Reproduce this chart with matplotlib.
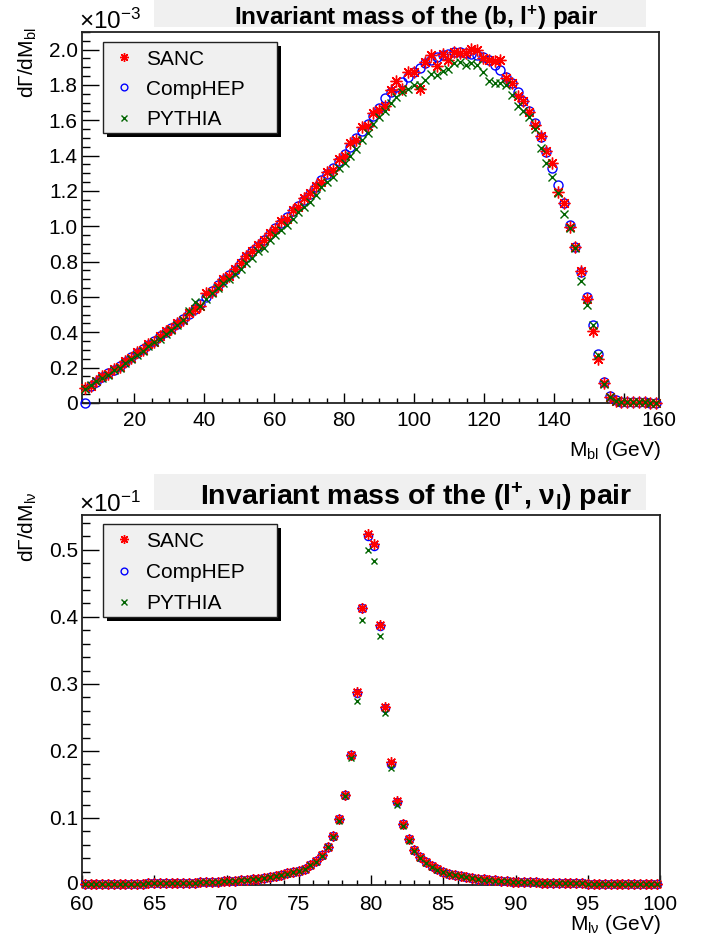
import numpy as np
import matplotlib
matplotlib.use("Agg")
import matplotlib.pyplot as plt
from matplotlib.patches import Rectangle
from matplotlib.lines import Line2D
from matplotlib.ticker import MultipleLocator, FixedLocator

plt.rcParams['font.family'] = ['Liberation Sans', 'DejaVu Sans']
plt.rcParams['mathtext.fontset'] = 'custom'
plt.rcParams['mathtext.rm'] = 'Liberation Sans'
plt.rcParams['mathtext.it'] = 'Liberation Sans:italic'
plt.rcParams['mathtext.bf'] = 'Liberation Sans:bold'

# ---------------- data: M_bl (100 bins, 5..170 GeV) ----------------
mbl_edges = (5.0, 170.0)
mbl_nbins = 100
mbl_sanc = [
    0.085, 0.095, 0.125, 0.15, 0.165, 0.19, 0.205, 0.235, 0.255, 0.29,
    0.30, 0.335, 0.345, 0.38, 0.41, 0.42, 0.455, 0.47, 0.51, 0.53,
    0.55, 0.625, 0.63, 0.66, 0.70, 0.72, 0.76, 0.79, 0.83, 0.86,
    0.895, 0.92, 0.96, 0.985, 1.03, 1.04, 1.09, 1.11, 1.16, 1.19,
    1.23, 1.25, 1.31, 1.32, 1.38, 1.40, 1.47, 1.49, 1.56, 1.57,
    1.64, 1.66, 1.68, 1.77, 1.82, 1.78, 1.875, 1.875, 1.78, 1.93,
    1.97, 1.91, 1.975, 1.94, 1.985, 1.98, 1.98, 2.005, 2.0, 1.955,
    1.94, 1.935, 1.94, 1.837, 1.81, 1.74, 1.71, 1.645, 1.575, 1.51,
    1.425, 1.357, 1.197, 1.13, 0.995, 0.885, 0.745, 0.59, 0.41, 0.25,
    0.115, 0.035, 0.014, 0.007, 0.005, 0.004, 0.003, 0.003, 0.002, 0.002]
mbl_comphep = [
    0.0, 0.095, 0.12, 0.147, 0.168, 0.187, 0.21, 0.232, 0.263, 0.282,
    0.305, 0.328, 0.352, 0.377, 0.40, 0.423, 0.448, 0.476, 0.505, 0.533,
    0.562, 0.60, 0.632, 0.667, 0.695, 0.724, 0.752, 0.79, 0.829, 0.861,
    0.89, 0.925, 0.955, 0.99, 1.02, 1.05, 1.085, 1.115, 1.15, 1.185,
    1.22, 1.26, 1.295, 1.33, 1.37, 1.41, 1.45, 1.50, 1.54, 1.58,
    1.625, 1.67, 1.728, 1.762, 1.790, 1.818, 1.846, 1.875, 1.897, 1.922,
    1.941, 1.956, 1.969, 1.978, 1.984, 1.984, 1.982, 1.978, 1.971, 1.959,
    1.941, 1.916, 1.884, 1.846, 1.809, 1.762, 1.711, 1.653, 1.583, 1.508,
    1.423, 1.330, 1.234, 1.131, 1.005, 0.884, 0.739, 0.598, 0.44, 0.278,
    0.118, 0.038, 0.015, 0.008, 0.005, 0.004, 0.003, 0.003, 0.002, 0.002]
mbl_pythia = [
    0.08, 0.10, 0.125, 0.14, 0.16, 0.185, 0.20, 0.225, 0.25, 0.27,
    0.295, 0.32, 0.345, 0.365, 0.39, 0.415, 0.44, 0.47, 0.52, 0.57,
    0.55, 0.59, 0.62, 0.65, 0.68, 0.70, 0.73, 0.76, 0.79, 0.82,
    0.86, 0.88, 0.92, 0.95, 0.98, 1.01, 1.04, 1.08, 1.11, 1.14,
    1.18, 1.22, 1.25, 1.28, 1.33, 1.36, 1.40, 1.44, 1.49, 1.53,
    1.58, 1.62, 1.65, 1.70, 1.73, 1.76, 1.78, 1.80, 1.80, 1.828,
    1.865, 1.856, 1.88, 1.893, 1.922, 1.931, 1.912, 1.922, 1.912, 1.875,
    1.82, 1.81, 1.81, 1.80, 1.743, 1.68, 1.65, 1.62, 1.549, 1.442,
    1.36, 1.28, 1.19, 1.07, 0.99, 0.88, 0.69, 0.555, 0.44, 0.27,
    0.11, 0.035, 0.014, 0.007, 0.005, 0.004, 0.003, 0.003, 0.002, 0.002]

# ---------------- data: M_lnu (100 bins, 60..100 GeV) ----------------
mlv_edges = (60.0, 100.0)
mlv_nbins = 100
mlv_sanc = [
    0.0015, 0.0016, 0.0016, 0.0017, 0.0018, 0.0018, 0.0019, 0.0020, 0.0021, 0.0022,
    0.0022, 0.0023, 0.0025, 0.0026, 0.0028, 0.0029, 0.0031, 0.0033, 0.0035, 0.0037,
    0.0040, 0.0043, 0.0046, 0.0050, 0.0054, 0.0059, 0.0064, 0.0070, 0.0077, 0.0085,
    0.0094, 0.0105, 0.0120, 0.0135, 0.0153, 0.0175, 0.0198, 0.0215, 0.0245, 0.0300,
    0.036, 0.045, 0.057, 0.073, 0.098, 0.135, 0.194, 0.288, 0.414, 0.523,
    0.508, 0.388, 0.265, 0.183, 0.125, 0.091, 0.068, 0.052, 0.042, 0.034,
    0.028, 0.0235, 0.020, 0.017, 0.0148, 0.013, 0.0115, 0.0102, 0.0092, 0.0083,
    0.0075, 0.0068, 0.0062, 0.0057, 0.0052, 0.0048, 0.0044, 0.0041, 0.0038, 0.0036,
    0.0033, 0.0031, 0.0029, 0.0028, 0.0026, 0.0025, 0.0023, 0.0022, 0.0021, 0.0020,
    0.0019, 0.0018, 0.0017, 0.0017, 0.0016, 0.0015, 0.0015, 0.0014, 0.0014, 0.0013]
mlv_comphep = [
    0.0015, 0.0016, 0.0016, 0.0017, 0.0018, 0.0018, 0.0019, 0.0020, 0.0021, 0.0022,
    0.0022, 0.0023, 0.0025, 0.0026, 0.0028, 0.0029, 0.0031, 0.0033, 0.0035, 0.0037,
    0.0040, 0.0043, 0.0046, 0.0050, 0.0054, 0.0059, 0.0064, 0.0070, 0.0077, 0.0085,
    0.0094, 0.0105, 0.0120, 0.0135, 0.0153, 0.0175, 0.0198, 0.0216, 0.0246, 0.0300,
    0.036, 0.045, 0.057, 0.073, 0.098, 0.135, 0.194, 0.287, 0.413, 0.521,
    0.506, 0.387, 0.264, 0.180, 0.124, 0.091, 0.068, 0.052, 0.042, 0.034,
    0.028, 0.0235, 0.020, 0.017, 0.0148, 0.013, 0.0115, 0.0102, 0.0092, 0.0083,
    0.0075, 0.0068, 0.0062, 0.0057, 0.0052, 0.0048, 0.0044, 0.0041, 0.0038, 0.0036,
    0.0033, 0.0031, 0.0029, 0.0028, 0.0026, 0.0025, 0.0023, 0.0022, 0.0021, 0.0020,
    0.0019, 0.0018, 0.0017, 0.0017, 0.0016, 0.0015, 0.0015, 0.0014, 0.0014, 0.0013]
mlv_pythia = [
    0.0015, 0.0016, 0.0016, 0.0017, 0.0017, 0.0018, 0.0019, 0.0020, 0.0020, 0.0021,
    0.0022, 0.0023, 0.0024, 0.0026, 0.0027, 0.0029, 0.0030, 0.0032, 0.0035, 0.0037,
    0.0039, 0.0042, 0.0045, 0.0049, 0.0053, 0.0058, 0.0063, 0.0069, 0.0076, 0.0083,
    0.0092, 0.0103, 0.0117, 0.0132, 0.0150, 0.0171, 0.0194, 0.0211, 0.0240, 0.0294,
    0.035, 0.044, 0.056, 0.071, 0.096, 0.133, 0.190, 0.275, 0.395, 0.500,
    0.483, 0.372, 0.256, 0.174, 0.120, 0.088, 0.066, 0.051, 0.041, 0.033,
    0.027, 0.0230, 0.0196, 0.0167, 0.0145, 0.0127, 0.0113, 0.0100, 0.0090, 0.0081,
    0.0073, 0.0067, 0.0061, 0.0056, 0.0051, 0.0047, 0.0043, 0.0040, 0.0037, 0.0035,
    0.0032, 0.0030, 0.0028, 0.0027, 0.0025, 0.0024, 0.0023, 0.0022, 0.0021, 0.0020,
    0.0019, 0.0018, 0.0017, 0.0016, 0.0016, 0.0015, 0.0014, 0.0014, 0.0013, 0.0013]

series_names = ["SANC", "CompHEP", "PYTHIA"]

W, H = 707, 938
fig = plt.figure(figsize=(W / 100, H / 100), dpi=100)
fig.patch.set_facecolor('white')


def fx(x):
    return x / W


def fy(y):
    return 1 - y / H


red = '#ff0000'
blue = '#0000ff'
green = '#006400'

sty = {
    "SANC": dict(marker=(8, 2, 0), ms=8.5, mew=1.0, color=red, mfc=red, mec=red),
    "CompHEP": dict(marker='o', ms=6.5, mew=1.0, color=blue, mfc='none', mec=blue),
    "PYTHIA": dict(marker='x', ms=5.5, mew=1.0, color=green, mfc=green, mec=green),
}


def centers(edges, n):
    w = (edges[1] - edges[0]) / n
    return edges[0] + w * (np.arange(n) + 0.5)


def style_axes(ax, xpad=6):
    ax.tick_params(which='both', direction='in', top=False, right=False,
                   labelsize=15, colors='black', width=1.0)
    ax.tick_params(axis='y', which='major', length=12.5, pad=3)
    ax.tick_params(axis='y', which='minor', length=6)
    ax.tick_params(axis='x', which='major', length=7.5, pad=xpad)
    ax.tick_params(axis='x', which='minor', length=3.3)
    for s in ax.spines.values():
        s.set_linewidth(1.3)
        s.set_color('#222222')


def draw_legend(top, bottom):
    x0, x1 = 103, 277
    fig.add_artist(Rectangle((fx(x0 + 4), fy(bottom + 4)), fx(x1) - fx(x0), fy(top) - fy(bottom),
                             transform=fig.transFigure, facecolor='black', edgecolor='black', lw=0))
    fig.add_artist(Rectangle((fx(x0), fy(bottom)), fx(x1) - fx(x0), fy(top) - fy(bottom),
                             transform=fig.transFigure, facecolor='#f0f0f0', edgecolor='#222222', lw=1.0))
    h = (bottom - top)
    ys = [top + h * 0.165, top + h * 0.5, top + h * 0.835]
    for name, yy in zip(series_names, ys):
        st = sty[name]
        fig.add_artist(Line2D([fx(124)], [fy(yy)], transform=fig.transFigure, ls='none',
                              marker=st['marker'], ms=st['ms'] * 0.75, mew=st['mew'],
                              mfc=st['mfc'], mec=st['mec']))
        fig.text(fx(146), fy(yy), name, fontsize=15, ha='left', va='center_baseline')


def title_box(y0, y1, text, size):
    fig.add_artist(Rectangle((fx(154), fy(y1)), fx(646) - fx(154), fy(y0) - fy(y1),
                             transform=fig.transFigure, facecolor='#f0f0f0', edgecolor='none'))
    fig.text(fx(416), fy((y0 + y1) / 2 + 1), text, fontsize=size, fontweight='bold',
             ha='center', va='center_baseline')


# ---------------- top panel ----------------
ax1 = fig.add_axes([fx(82), fy(403), fx(659) - fx(82), fy(32) - fy(403)])
xc = centers(mbl_edges, mbl_nbins)
for name, vals in (("CompHEP", mbl_comphep), ("SANC", mbl_sanc), ("PYTHIA", mbl_pythia)):
    st = sty[name]
    ax1.plot(xc, vals, ls='none', marker=st['marker'], ms=st['ms'], mew=st['mew'],
             mfc=st['mfc'], mec=st['mec'], clip_on=False, zorder=3)
ax1.set_xlim(*mbl_edges)
ax1.set_ylim(0, 2.1)
ax1.xaxis.set_major_locator(FixedLocator([20, 40, 60, 80, 100, 120, 140, 160, 170]))
ax1.set_xticklabels(['20', '40', '60', '80', '100', '120', '140', '', '160'])
ax1.xaxis.set_minor_locator(MultipleLocator(5))
ax1.set_yticks(np.arange(0, 2.01, 0.2))
ax1.set_yticklabels(['0'] + ['%.1f' % v for v in np.arange(0.2, 2.01, 0.2)])
ax1.yaxis.set_minor_locator(MultipleLocator(0.05))
style_axes(ax1)
ax1.get_xticklines()[-2].set_visible(False)

title_box(0, 27, r'Invariant mass of the (b, $\mathbf{l^{+}}$) pair', 17.5)
fig.text(fx(79), fy(29), r'$\mathregular{\times10^{-3}}$', fontsize=17.5, ha='left', va='baseline')
fig.text(fx(28), fy(27), r'$\mathregular{d\Gamma/dM_{bl}}$', fontsize=15, rotation=90,
         ha='center', va='top')
fig.text(fx(661), fy(447), r'$\mathregular{M_{bl}}$ (GeV)', fontsize=15, ha='right', va='center_baseline')
draw_legend(42, 133)

# ---------------- bottom panel ----------------
ax2 = fig.add_axes([fx(82), fy(885), fx(660) - fx(82), fy(515) - fy(885)])
xc2 = centers(mlv_edges, mlv_nbins)
for name, vals in (("CompHEP", mlv_comphep), ("SANC", mlv_sanc), ("PYTHIA", mlv_pythia)):
    st = sty[name]
    ax2.plot(xc2, vals, ls='none', marker=st['marker'], ms=st['ms'] * 0.9, mew=st['mew'],
             mfc=st['mfc'], mec=st['mec'], clip_on=False, zorder=3)
ax2.set_xlim(*mlv_edges)
ax2.set_ylim(0, 0.552)
ax2.xaxis.set_major_locator(MultipleLocator(5))
ax2.xaxis.set_minor_locator(MultipleLocator(1))
ax2.set_yticks(np.arange(0, 0.51, 0.1))
ax2.set_yticklabels([''] + ['%.1f' % v for v in np.arange(0.1, 0.51, 0.1)])
ax2.yaxis.set_minor_locator(MultipleLocator(0.02))
style_axes(ax2, xpad=7)
# "0" label of the y axis, nudged up a little so it sits clear of the "60" x label
fig.text(fx(78), fy(882), '0', fontsize=15, ha='right', va='center_baseline')

title_box(474, 510, r'Invariant mass of the ($\mathbf{l^{+}}$, $\mathbf{\nu_{l}}$) pair', 20.5)
fig.text(fx(79), fy(512), r'$\mathregular{\times10^{-1}}$', fontsize=17.5, ha='left', va='baseline')
fig.text(fx(28), fy(492), r'$\mathregular{d\Gamma/dM_{l\nu}}$', fontsize=15, rotation=90,
         ha='center', va='top')
fig.text(fx(661), fy(921), r'$\mathregular{M_{l\nu}}$ (GeV)', fontsize=15, ha='right', va='center_baseline')
draw_legend(524, 617)

fig.savefig('out.png', dpi=100)
